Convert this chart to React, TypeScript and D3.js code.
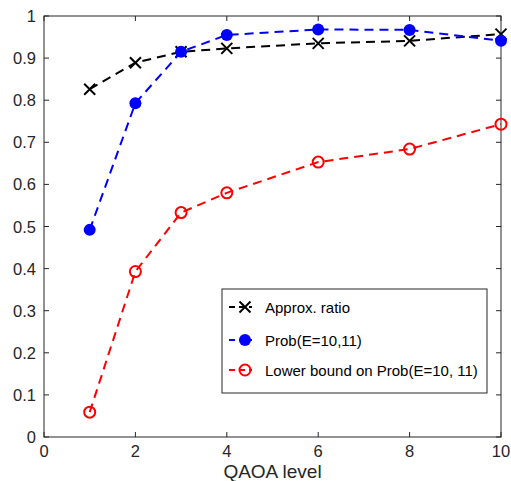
import React from "react";
import * as d3 from "d3";

const levels = [1, 2, 3, 4, 6, 8, 10];
const approxRatio = [0.826, 0.889, 0.915, 0.923, 0.935, 0.941, 0.957];
const probE = [0.492, 0.793, 0.915, 0.955, 0.968, 0.967, 0.941];
const lowerBound = [0.059, 0.393, 0.533, 0.58, 0.653, 0.684, 0.743];
const xTicks = [0, 2, 4, 6, 8, 10];
const yTicks = [0, 0.1, 0.2, 0.3, 0.4, 0.5, 0.6, 0.7, 0.8, 0.9, 1];
const seriesNames = ["Approx. ratio", "Prob(E=10,11)", "Lower bound on Prob(E=10, 11)"];

const W = 511, H = 481;
const L = 44, R = 501, T = 16, B = 437;
const font = "'Liberation Sans', Arial, Helvetica, sans-serif";
const axisColor = "#262626";

function Marker({ kind, x, y, color }: { kind: string; x: number; y: number; color: string }) {
  if (kind === "x") {
    const s = 5.5;
    return (
      <g stroke={color} strokeWidth={2}>
        <line x1={x - s} y1={y - s} x2={x + s} y2={y + s} />
        <line x1={x - s} y1={y + s} x2={x + s} y2={y - s} />
      </g>
    );
  }
  if (kind === "dot") return <circle cx={x} cy={y} r={6} fill={color} />;
  return <circle cx={x} cy={y} r={5.5} fill="none" stroke={color} strokeWidth={2} />;
}

export default function App() {
  const xs = d3.scaleLinear().domain([0, 10]).range([L, R]);
  const ys = d3.scaleLinear().domain([0, 1]).range([B, T]);
  const line = d3
    .line<[number, number]>()
    .x((d) => xs(d[0]))
    .y((d) => ys(d[1]));

  const series = [
    { vals: approxRatio, color: "#000000", kind: "x" },
    { vals: probE, color: "#0000ff", kind: "dot" },
    { vals: lowerBound, color: "#ff0000", kind: "o" },
  ];

  const legendY = [307, 340, 370];

  return (
    <svg width={W} height={H} style={{ position: "absolute", left: 0, top: 0, background: "#fff" }}>
      <rect x={0} y={0} width={W} height={H} fill="#fff" />
      <rect x={L} y={T} width={R - L} height={B - T} fill="none" stroke={axisColor} strokeWidth={1} />
      {xTicks.map((t) => (
        <g key={"xt" + t}>
          <line x1={xs(t)} x2={xs(t)} y1={B} y2={B - 5} stroke={axisColor} />
          <line x1={xs(t)} x2={xs(t)} y1={T} y2={T + 5} stroke={axisColor} />
          <text x={xs(t)} y={457} textAnchor="middle" fontFamily={font} fontSize={16.5} fill={axisColor}>
            {t}
          </text>
        </g>
      ))}
      {yTicks.map((t) => (
        <g key={"yt" + t}>
          <line x1={L} x2={L + 5} y1={ys(t)} y2={ys(t)} stroke={axisColor} />
          <line x1={R} x2={R - 5} y1={ys(t)} y2={ys(t)} stroke={axisColor} />
          <text x={L - 8} y={ys(t) + 6} textAnchor="end" fontFamily={font} fontSize={16.5} fill={axisColor}>
            {t === 0 || t === 1 ? String(t) : t.toFixed(1)}
          </text>
        </g>
      ))}
      <text x={(L + R) / 2} y={478} textAnchor="middle" fontFamily={font} fontSize={19} fill={axisColor}>
        QAOA level
      </text>
      {series.map((s, i) => {
        const pts = levels.map((l, j) => [l, s.vals[j]] as [number, number]);
        return (
          <g key={"s" + i}>
            <path d={line(pts) || ""} fill="none" stroke={s.color} strokeWidth={2} strokeDasharray="9,6" />
            {pts.map((p, j) => (
              <Marker key={j} kind={s.kind} x={xs(p[0])} y={ys(p[1])} color={s.color} />
            ))}
          </g>
        );
      })}
      <rect x={222} y={289} width={265} height={104} fill="#fff" stroke={axisColor} strokeWidth={1} />
      {series.map((s, i) => (
        <g key={"lg" + i}>
          <line x1={229} x2={252} y1={legendY[i]} y2={legendY[i]} stroke={s.color} strokeWidth={2} strokeDasharray="6,4" />
          <Marker kind={s.kind} x={245} y={legendY[i]} color={s.color} />
          <text x={265} y={legendY[i] + 5.5} fontFamily={font} fontSize={15} fill="#000">
            {seriesNames[i]}
          </text>
        </g>
      ))}
    </svg>
  );
}
